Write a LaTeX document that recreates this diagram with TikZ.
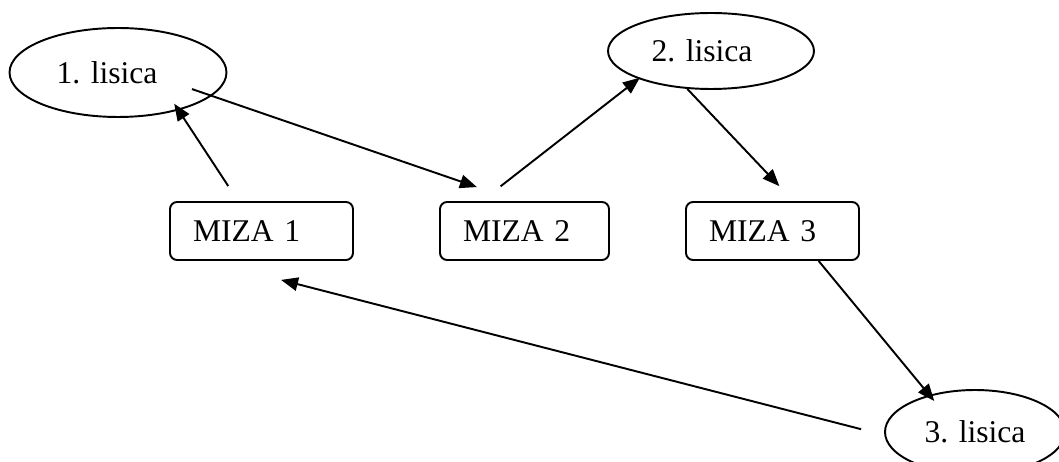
\documentclass[tikz,border=0pt]{standalone}
\usepackage{fontspec}
\setmainfont{Liberation Serif}
\usetikzlibrary{shapes.geometric,arrows.meta}

\begin{document}
\begin{tikzpicture}[x=0.02cm,y=-0.02cm,>={Triangle[length=0.34cm,width=0.27cm]},line width=1.1pt]
\tikzstyle{lisica}=[ellipse,draw,inner sep=0pt,font=\fontsize{18}{22}\selectfont]
\tikzstyle{miza}=[rectangle,draw,rounded corners=0.14cm,align=left,inner xsep=0.46cm,inner ysep=0pt,minimum height=1.16cm,font=\fontsize{18}{22}\selectfont]
\useasboundingbox (0,0) rectangle (1059,462);
\node[lisica,minimum width=4.34cm,minimum height=1.78cm] (lis1) at (118,72.5) {1. lisica\hspace*{0.44cm}};
\node[lisica,minimum width=4.12cm,minimum height=1.52cm] (lis2) at (711,51) {2. lisica\hspace*{0.36cm}};
\node[lisica,minimum width=3.6cm,minimum height=1.68cm] (lis3) at (975,432) {3. lisica};
\node[miza,text width=2.74cm] (miza1) at (261.5,231) {MIZA 1};
\node[miza,text width=2.46cm] (miza2) at (524.5,231) {MIZA 2};
\node[miza,text width=2.54cm] (miza3) at (772.5,231) {MIZA 3};
\draw[->,shorten <=0.36cm,shorten >=-0.16cm] (miza1.128) -- (lis1.-32);
\draw[->,shorten <=-0.42cm,shorten >=0.86cm] (lis1.-14) -- (miza2.103);
\draw[->,shorten <=0.48cm,shorten >=-0.04cm] (miza2.145) -- (lis2.201);
\draw[->,shorten >=0.41cm] (lis2.238) -- (miza3.55);
\draw[->,shorten >=-0.16cm] (miza3.-33) -- (lis3.141);
\draw[->,shorten <=0.48cm,shorten >=1.52cm] (lis3.182) -- (miza1.209);
\end{tikzpicture}
\end{document}
